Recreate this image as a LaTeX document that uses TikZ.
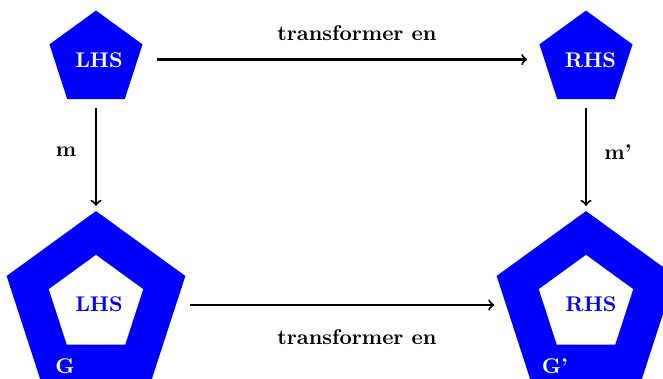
\documentclass[tikz,border=0pt]{standalone}
\usetikzlibrary{shapes.geometric}
\begin{document}
\begin{tikzpicture}[x=0.47pt,y=-0.47pt,
  pent/.style={regular polygon, regular polygon sides=5, inner sep=0pt, outer sep=0pt, fill=blue, minimum size=#1},
  hole/.style={regular polygon, regular polygon sides=5, inner sep=0pt, outer sep=0pt, fill=white, minimum size=46.6pt},
  arr/.style={->, line width=0.95pt, black},
  lbl/.style={font=\bfseries, text=black, inner sep=0pt},
]
\useasboundingbox (0,0) rectangle (663,378);
% top pentagons
\node[pent=46pt] (lhs) at (96,59.5) {};
\node[pent=46pt] (rhs) at (586,59.5) {};
% bottom pentagons
\node[pent=88.3pt] (g) at (96,305) {};
\node[hole] (ghole) at (96,304.5) {};
\node[pent=88.3pt] (gp) at (586,305) {};
\node[hole] (gphole) at (586,304.5) {};
% texts
\node[lbl, text=white] (lhst) at (99,60) {LHS};
\node[lbl, text=white] (rhst) at (590.5,60) {RHS};
\node[lbl, text=blue] (glhs) at (99,304.5) {LHS};
\node[lbl, text=blue] (grhs) at (591,304.5) {RHS};
\node[lbl, text=white] (gl) at (65,366) {G};
\node[lbl, text=white] (gpl) at (555,366) {G'};
% connectors
\draw[arr, shorten <=8.9pt, shorten >=8pt] (lhs) -- node[lbl, above=8.5pt, xshift=7.5pt] (t1) {transformer en} (rhs);
\draw[arr, shorten <=6.4pt, shorten >=5.5pt] (g) -- node[lbl, below=11pt, xshift=7.5pt] (t2) {transformer en} (gp);
\draw[arr, shorten <=4.4pt, shorten >=2.4pt] (lhs) -- (g);
\draw[arr, shorten <=4.4pt, shorten >=2.4pt] (rhs) -- (gp);
\node[lbl] (ml) at (66,152) {m};
\node[lbl] (mpl) at (618,152) {m'};
\end{tikzpicture}
\end{document}
